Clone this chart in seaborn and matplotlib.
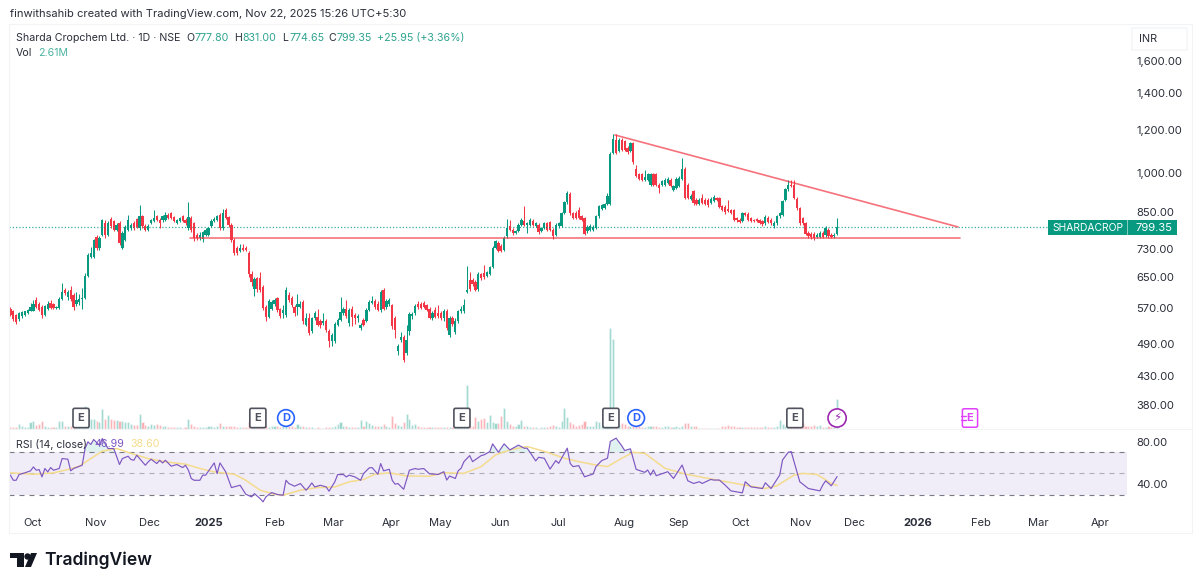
import numpy as np
import pandas as pd
import seaborn as sns
import matplotlib.pyplot as plt
from matplotlib.lines import Line2D
from matplotlib.patches import Rectangle, Polygon, FancyBboxPatch
from matplotlib.ticker import NullLocator

# daily candles, oldest first
opens = [
    569, 562, 554, 544, 551, 554, 558, 564, 564, 589,
    579, 573, 554, 569, 583, 579, 571, 571, 593, 614,
    597, 614, 601, 581, 585, 593, 595, 653, 706, 706,
    767, 734, 775, 813, 775, 827, 820, 791, 813, 734,
    759, 791, 796, 813, 827, 796, 836, 804, 791, 813,
    820, 836, 825, 822, 825, 842, 848, 834, 813, 820,
    836, 825, 796, 830, 813, 775, 764, 761, 775, 775,
    804, 820, 825, 842, 796, 860, 834, 807, 759, 734,
    724, 732, 732, 717, 657, 618, 646, 646, 622, 573,
    550, 569, 579, 595, 567, 558, 554, 603, 595, 573,
    573, 573, 585, 532, 546, 517, 546, 550, 539, 536,
    539, 518, 496, 496, 532, 543, 558, 567, 536, 567,
    554, 548, 524, 543, 541, 566, 583, 587, 581, 566,
    614, 573, 579, 577, 548, 477, 498, 506, 473, 517,
    552, 558, 581, 581, 583, 577, 567, 546, 566, 558,
    558, 546, 563, 510, 546, 516, 539, 562, 562, 609,
    640, 640, 635, 618, 657, 659, 653, 657, 678, 734,
    749, 739, 727, 770, 802, 791, 780, 786, 807, 820,
    807, 807, 820, 804, 807, 786, 798, 813, 816, 791,
    775, 802, 804, 848, 886, 916, 848, 848, 860, 836,
    830, 786, 791, 791, 796, 836, 862, 866, 879, 879,
    1090, 1149, 1098, 1149, 1144, 1113, 1098, 1134, 1017, 996,
    996, 975, 975, 955, 996, 996, 955, 955, 955, 962,
    975, 933, 942, 949, 978, 1021, 955, 900, 929, 897,
    879, 903, 897, 897, 885, 890, 902, 902, 873, 870,
    862, 857, 857, 830, 825, 820, 848, 844, 830, 825,
    827, 823, 820, 812, 830, 825, 803, 812, 836, 842,
    897, 936, 955, 955, 900, 866, 830, 814, 781, 777,
    777, 768, 768, 781, 773, 790, 775, 770, 777.8,
]
highs = [
    572, 566, 557, 560, 562, 564, 569, 582, 590, 597,
    585, 578, 578, 586, 590, 583, 576, 596, 634, 620,
    614, 626, 606, 610, 605, 621, 660, 716, 735, 762,
    772, 770, 828, 824, 820, 834, 824, 812, 820, 785,
    806, 840, 812, 820, 832, 877, 840, 810, 810, 828,
    860, 842, 830, 840, 852, 848, 852, 838, 826, 835,
    840, 830, 886, 838, 818, 780, 782, 788, 795, 800,
    826, 834, 842, 848, 862, 866, 838, 812, 764, 738,
    745, 745, 738, 722, 665, 650, 650, 662, 628, 578,
    592, 590, 594, 598, 571, 578, 622, 610, 600, 578,
    604, 586, 590, 558, 558, 550, 562, 567, 544, 558,
    544, 522, 514, 537, 548, 598, 572, 590, 571, 574,
    558, 556, 536, 548, 570, 589, 600, 592, 586, 614,
    620, 592, 595, 581, 552, 490, 515, 510, 532, 560,
    560, 580, 586, 585, 588, 581, 572, 562, 572, 577,
    562, 567, 567, 552, 552, 546, 566, 574, 593, 680,
    662, 645, 640, 662, 660, 682, 666, 680, 738, 758,
    754, 744, 770, 828, 825, 795, 790, 812, 830, 872,
    818, 830, 826, 818, 812, 800, 818, 818, 820, 796,
    812, 818, 852, 892, 928, 925, 852, 854, 868, 840,
    835, 808, 810, 806, 842, 878, 880, 884, 922, 1092,
    1180, 1177, 1158, 1158, 1150, 1120, 1140, 1140, 1036, 1002,
    1000, 1016, 1000, 1002, 1000, 1002, 960, 974, 980, 984,
    980, 953, 984, 988, 1065, 1028, 960, 916, 934, 902,
    902, 916, 902, 902, 905, 914, 906, 906, 878, 875,
    897, 862, 862, 834, 829, 852, 852, 850, 834, 828,
    832, 827, 824, 840, 836, 830, 820, 840, 852, 895,
    942, 975, 975, 972, 905, 870, 835, 818, 785, 782,
    782, 780, 786, 786, 804, 796, 780, 780, 831,
]
lows = [
    552, 540, 533, 541, 548, 552, 556, 562, 562, 570,
    562, 546, 552, 566, 569, 568, 568, 569, 590, 602,
    590, 588, 566, 575, 578, 568, 592, 650, 702, 702,
    728, 728, 770, 765, 770, 798, 785, 786, 742, 730,
    755, 786, 790, 790, 795, 790, 798, 786, 786, 810,
    816, 820, 795, 818, 820, 826, 826, 816, 810, 816,
    816, 808, 790, 782, 755, 756, 758, 752, 770, 770,
    800, 816, 820, 790, 790, 826, 800, 752, 710, 710,
    720, 722, 724, 650, 625, 600, 610, 610, 566, 540,
    546, 565, 575, 560, 548, 546, 550, 584, 572, 552,
    554, 570, 534, 528, 510, 514, 542, 528, 524, 532,
    516, 484, 486, 492, 528, 540, 554, 548, 530, 530,
    534, 537, 521, 528, 538, 562, 580, 568, 562, 560,
    565, 568, 575, 522, 503, 468, 495, 455, 468, 510,
    545, 554, 568, 568, 570, 562, 544, 542, 546, 548,
    542, 540, 520, 506, 528, 512, 535, 558, 558, 606,
    612, 626, 612, 612, 640, 644, 650, 654, 675, 730,
    720, 720, 724, 765, 786, 775, 776, 782, 802, 802,
    780, 802, 802, 800, 778, 782, 794, 786, 786, 762,
    770, 798, 800, 844, 882, 842, 826, 826, 826, 820,
    772, 780, 785, 788, 792, 832, 858, 862, 875, 875,
    1086, 1085, 1092, 1100, 1098, 1085, 1092, 1042, 984, 972,
    968, 970, 970, 950, 950, 948, 923, 950, 950, 958,
    944, 928, 938, 944, 974, 898, 898, 896, 878, 875,
    875, 880, 875, 871, 882, 886, 892, 866, 856, 846,
    850, 844, 820, 818, 812, 816, 838, 820, 816, 816,
    816, 810, 804, 808, 812, 808, 795, 808, 832, 838,
    892, 930, 944, 898, 860, 808, 806, 772, 764, 762,
    756, 763, 764, 764, 768, 765, 764, 765, 774.65,
]
closes = [
    554, 544, 537, 558, 560, 562, 566, 573, 581, 573,
    566, 554, 575, 579, 571, 571, 573, 593, 610, 606,
    610, 592, 573, 589, 593, 595, 653, 711, 717, 756,
    734, 764, 822, 773, 813, 802, 791, 807, 749, 780,
    800, 822, 807, 796, 799, 836, 802, 791, 804, 822,
    830, 825, 813, 836, 842, 830, 830, 820, 822, 830,
    820, 813, 834, 791, 764, 764, 775, 782, 789, 796,
    820, 827, 836, 796, 848, 830, 807, 759, 717, 717,
    734, 727, 727, 657, 635, 644, 618, 614, 571, 550,
    587, 585, 589, 566, 552, 566, 614, 589, 577, 558,
    579, 581, 539, 546, 514, 546, 558, 532, 532, 541,
    521, 496, 510, 533, 543, 560, 568, 552, 566, 550,
    546, 552, 532, 532, 566, 585, 586, 573, 566, 610,
    569, 587, 590, 528, 521, 486, 506, 458, 498, 555,
    556, 575, 573, 571, 573, 566, 548, 558, 550, 552,
    546, 563, 524, 546, 533, 541, 562, 569, 577, 614,
    618, 631, 616, 657, 646, 648, 662, 676, 734, 754,
    724, 724, 764, 796, 791, 780, 786, 807, 825, 807,
    813, 825, 807, 813, 782, 796, 813, 791, 791, 770,
    807, 813, 848, 886, 920, 848, 830, 830, 830, 825,
    778, 800, 803, 800, 836, 873, 875, 879, 910, 1084,
    1155, 1090, 1149, 1105, 1105, 1093, 1134, 1049, 989, 978,
    975, 986, 996, 996, 955, 955, 942, 968, 975, 978,
    949, 949, 978, 982, 1021, 903, 903, 912, 883, 879,
    897, 885, 879, 875, 900, 907, 897, 870, 860, 850,
    854, 848, 825, 822, 816, 848, 842, 825, 820, 820,
    820, 814, 809, 834, 816, 812, 814, 836, 848, 890,
    936, 955, 949, 903, 866, 814, 812, 778, 770, 768,
    765, 775, 781, 768, 797, 770, 768, 773.4, 799.35,
]
# volume in millions of shares
volumes = [
    .17, .15, .15, .41, .23, .17, .2, .58, .73, .35,
    .41, .73, .29, .17, .15, .15, .17, .73, .73, .29,
    .29, .29, .35, .29, .29, .35, 1.97, .87, .87, .87,
    .73, .64, 1.74, .87, 1.22, .87, .78, .78, .73, .73,
    .58, .58, .44, .35, .35, 1.31, .58, .35, .29, .44,
    .35, .44, .35, .23, .29, .17, .15, .15, .15, .15,
    .12, .17, .87, .44, .23, .2, .2, .17, .17, .23,
    .23, .2, .23, .52, .29, .29, .23, .29, .23, .17,
    .15, .15, .17, .58, .35, .23, .2, .17, .17, .23,
    .17, .23, .23, .29, .17, .29, .52, .23, .23, .17,
    .44, .23, .23, .2, .17, .15, .12, .15, .12, .12,
    .15, .17, .17, .23, .41, .64, .29, .23, .17, .15,
    .15, .15, .81, .23, .73, .52, .35, .23, .23, .23,
    .44, .23, .17, 1.16, .52, .35, .23, .58, 1.31, .87,
    .35, .44, .23, .17, .15, .15, .15, .17, .2, .15,
    .17, .15, .17, .15, .17, .15, .15, .15, .15, 3.8,
    .29, .29, 1.02, .73, .87, .93, .58, 1.22, .64, .52,
    .52, 1.1, 1.8, .73, .44, .29, .29, .44, .81, .29,
    .23, .17, .15, .15, .09, .15, .15, .17, .23, .35,
    .29, .17, .73, 1.8, 1.02, .58, .44, .29, .35, .44,
    .73, .29, .23, .23, .73, .58, .29, .29, .29, 8.79,
    7.83, 1.83, .35, .52, .44, .29, .23, .29, .29, .23,
    .2, .2, .23, .23, .23, .23, .2, .17, .23, .23,
    .2, .17, .23, .2, .23, .52, .52, .23, .23, .23,
    .12, .12, .09, .12, .12, .09, .12, .12, .29, .23,
    .35, .23, .23, .17, .17, .15, .15, .17, .17, .15,
    .15, .17, .15, .23, .17, .15, .17, .29, .81, .44,
    .23, .23, .23, 1.91, .17, .23, .52, .29, .29, .23,
    .35, .23, .35, .17, .17, .23, .15, .17, 2.61,
]

# RSI vertices (bar number, value)
rsi_bars = [
    0, 1, 2, 3, 5, 7, 8, 9, 10, 11, 12, 13, 14, 15, 17, 18, 20, 21, 22, 25,
    26, 27, 28, 29, 31, 32, 34, 36, 38, 39, 41, 42, 43, 44, 46, 47, 48, 49, 51, 52,
    53, 54, 56, 58, 60, 61, 62, 63, 64, 66, 67, 68, 70, 71, 72, 73, 75, 77, 80, 82,
    84, 85, 87, 88, 89, 91, 93, 95, 96, 97, 99, 101, 103, 104, 105, 106, 108, 110, 111, 113,
    114, 116, 117, 118, 120, 122, 123, 125, 126, 128, 129, 130, 132, 133, 134, 135, 137, 139, 141, 142,
    144, 146, 149, 151, 152, 153, 155, 156, 157, 158, 160, 161, 164, 165, 167, 168, 170, 172, 174, 177,
    179, 180, 181, 183, 184, 186, 188, 190, 191, 193, 194, 195, 196, 198, 200, 203, 204, 206, 208, 209,
    211, 213, 214, 216, 218, 221, 222, 223, 224, 225, 229, 231, 234, 236, 238, 240, 241, 244, 245, 247,
    249, 251, 255, 256, 258, 262, 263, 265, 268, 269, 271, 272, 274, 275, 278, 282, 283, 284, 286, 288,
]
rsi_values = [
    48.3, 43.5, 43.5, 48.9, 50.5, 52.4, 56.1, 53, 53.6, 46.7, 54.6, 51.4, 55.5, 53, 54.6, 64, 63.4, 52.4, 54.6, 57.7,
    73.5, 79.8, 77.3, 82, 76.6, 82.9, 73.5, 73.5, 58.4, 64, 66.2, 63.1, 62.4, 67.2, 60.9, 57.7, 60.9, 63.4, 59.3, 62.4,
    59.9, 62.4, 56.8, 58.4, 55.5, 57.7, 53, 45.1, 43.5, 43.5, 48.3, 48.3, 56.1, 59.9, 49.8, 59.9, 51.4, 36.6, 38.8, 30.3,
    27.8, 30.9, 26.2, 23.1, 27.8, 31.9, 30, 29.4, 43.5, 40.4, 37.9, 40.4, 34.1, 37.2, 41, 37.2, 38.8, 37.2, 33.2, 42,
    48.9, 48.9, 46.7, 48.3, 46.7, 43.5, 49.8, 55.2, 55.5, 49.2, 59.3, 52.4, 53.9, 43.5, 39.8, 40.4, 35, 53, 54.6, 53.9,
    54.6, 49.6, 49, 51.6, 43.7, 47.5, 45.2, 52.5, 54.8, 61.1, 66.8, 61.1, 66.8, 67.5, 70.6, 77.9, 70, 77.9, 72.2, 76.7,
    73.8, 73.8, 70, 61.8, 65.2, 64.3, 54.1, 62.1, 59.5, 69, 73.8, 59.5, 56.4, 57.3, 46.8, 49.4, 56.4, 62.1, 64.3, 80.2,
    83.3, 76, 71.6, 73.2, 53.8, 51, 53.2, 48.4, 53.2, 47.8, 51.6, 45.2, 57.9, 43, 40.5, 42.1, 40.5, 44.3, 43.7, 43.7,
    38.9, 33.5, 31.6, 42.1, 37.3, 35.7, 41.1, 35.7, 48.4, 62.7, 70, 70.6, 51.6, 42.1, 35.7, 33.5, 38.9, 43, 38.3, 46.99,
]
# RSI moving average vertices
rsi_ma_bars = [
    0, 8, 15, 20, 24, 28, 32, 37, 43, 48, 54, 61, 66, 71, 78, 82, 87, 92, 95, 101,
    107, 113, 118, 123, 127, 132, 138, 146, 151, 158, 164, 169, 174, 180, 187, 193, 198, 204, 208, 213,
    217, 221, 228, 235, 245, 257, 263, 267, 273, 276, 281, 286, 288,
]
rsi_ma_values = [
    50.5, 49.2, 50.5, 53.6, 56.8, 64, 71, 73.5, 68.1, 64, 60.9, 58.7, 54.6, 51.4, 49.2, 43.5, 34.1, 30.3, 29.4, 34.1,
    36.6, 37.2, 42, 44.2, 49.2, 50.5, 47.6, 47.3, 50.6, 50, 56.4, 67.5, 72.2, 75.4, 70, 64.3, 61.1, 57.9, 56.4, 64.3,
    70, 69, 54.8, 49.4, 44.3, 38.3, 35.7, 38.3, 48.4, 50, 49, 40.5, 38.6,
]

price_ticks = [1600, 1400, 1200, 1000, 850, 730, 650, 570, 490, 430, 380]
rsi_ticks = [80, 40]
month_labels = ['Oct', 'Nov', 'Dec', '2025', 'Feb', 'Mar', 'Apr', 'May', 'Jun', 'Jul', 'Aug', 'Sep',
                'Oct', 'Nov', 'Dec', '2026', 'Feb', 'Mar', 'Apr']
month_bars = [7.8, 29.8, 48.6, 69.2, 92.2, 112.4, 132.6, 149.7, 170.6, 190.8, 213.8, 232.9,
              254.5, 275.4, 294.2, 316.2, 338.2, 358, 379.6]

support_bars = [62.6, 330.8]
support_price = [763, 763]
trend_bars = [210.6, 330.1]
trend_price = [1174.5, 800]
earnings_bars = [24.6, 86.2, 157.3, 209.2, 273.3]
dividend_bars = [96, 218]

GREEN = '#089981'
RED = '#f23645'
PURPLE = '#7e57c2'
YELLOW = '#f5dc8c'
GREY = '#787b86'
TEXT = '#2a2e39'
LEGEND_SIZE = 7.65

W, H = 1200, 587
sns.set_theme(style='white')
plt.rcParams['font.family'] = ['Inter', 'DejaVu Sans']


def fx(x):
    return x / W


def fy(y):
    return 1 - y / H


def pane(left, top, right, bottom, **kw):
    return fig.add_axes([fx(left), fy(bottom), fx(right - left), (bottom - top) / H], **kw)


df = pd.DataFrame({'open': opens, 'high': highs, 'low': lows, 'close': closes, 'vol': volumes})
df['bar'] = df.index
df['up'] = df['close'] >= df['open']

fig = plt.figure(figsize=(W / 100, H / 100), dpi=100)

# panes, volume sits behind the candles
ax_vol = pane(9, 24, 1127, 429)
ax = pane(9, 24, 1127, 429, sharex=ax_vol)
ax_rsi = pane(9, 430, 1127, 508, sharex=ax_vol)
ax.patch.set_visible(False)

sns.barplot(data=df, x='bar', y='vol', hue='up', palette={True: GREEN, False: RED}, alpha=0.45, saturation=1,
            native_scale=True, dodge=False, width=0.72, gap=0, legend=False, ax=ax_vol)
ax_vol.set_ylim(0, 35.2)
ax_vol.set_yticks([])
ax_vol.set_ylabel('')
ax_vol.set_xlabel('')

# candles
colors = np.where(df['up'], GREEN, RED)
ax.vlines(df['bar'], df['low'], df['high'], colors=colors, linewidth=0.75)
ax.bar(df['bar'], (df['close'] - df['open']).abs().clip(lower=1.5), bottom=df[['open', 'close']].min(axis=1),
       width=0.8, color=colors, linewidth=0)
ax.set_yscale('log')
ax.set_ylim(344, 1867)
ax.yaxis.tick_right()
ax.set_yticks(price_ticks)
ax.set_yticklabels([f'{p:,.2f}' for p in price_ticks])
ax.yaxis.set_minor_locator(NullLocator())
ax.tick_params(axis='y', length=0, pad=6.5, labelsize=8.05, labelcolor=TEXT)
ax.tick_params(axis='x', length=0, labelbottom=False)

# last price line and drawn levels
ax.plot([0, 0.9293], [df['close'].iloc[-1]] * 2, transform=ax.get_yaxis_transform(), color=GREEN,
        linestyle=(0, (1, 1.6)), linewidth=0.9, alpha=0.8, zorder=1)
sns.lineplot(x=support_bars, y=support_price, color=RED, alpha=0.7, linewidth=1.2, ax=ax, zorder=4)
sns.lineplot(x=trend_bars, y=trend_price, color=RED, alpha=0.7, linewidth=1.2, ax=ax, zorder=4)
ax.set_ylabel('')

# RSI pane
ax_rsi.axhspan(30, 70, color=PURPLE, alpha=0.11, linewidth=0)
for level, alpha in [(70, 1), (50, 0.55), (30, 1)]:
    ax_rsi.axhline(level, color=GREY, linestyle=(0, (4.5, 4.5)), linewidth=0.8, alpha=alpha)
rsi_b = np.array(rsi_bars)
rsi_v = np.array(rsi_values)
ax_rsi.fill_between(rsi_b, 70, rsi_v, where=rsi_v > 70, interpolate=True, color=GREEN, alpha=0.12, linewidth=0)
sns.lineplot(x=rsi_ma_bars, y=rsi_ma_values, color=YELLOW, linewidth=1.1, estimator=None, sort=False, ax=ax_rsi)
sns.lineplot(x=rsi_bars, y=rsi_values, color=PURPLE, linewidth=0.85, estimator=None, sort=False, ax=ax_rsi)
ax_rsi.set_ylim(17.3, 91)
ax_rsi.yaxis.tick_right()
ax_rsi.set_yticks(rsi_ticks)
ax_rsi.set_yticklabels([f'{r:.2f}' for r in rsi_ticks])
ax_rsi.tick_params(axis='y', length=0, pad=6.5, labelsize=8.05, labelcolor=TEXT)
ax_rsi.set_xticks(month_bars)
ax_rsi.set_xticklabels(month_labels)
ax_rsi.tick_params(axis='x', length=0, pad=7, labelsize=8, labelcolor=TEXT)
for lab in ax_rsi.get_xticklabels():
    if lab.get_text().startswith('20'):
        lab.set_fontweight('bold')
ax_rsi.set_xlim(-0.5, 389)

for a in (ax_vol, ax, ax_rsi):
    a.grid(False)
    for s in a.spines.values():
        s.set_visible(False)
ax_vol.tick_params(axis='x', labelbottom=False, length=0)

# event markers along the bottom of the price pane
marker_tf = ax.get_xaxis_transform()
marker_y = (429 - 418) / 405
for b in earnings_bars:
    ax.text(b, marker_y, 'E', transform=marker_tf, ha='center', va='center', fontsize=8, fontweight='bold',
            color='#50535e', zorder=6,
            bbox=dict(boxstyle='round,pad=0.42,rounding_size=0.15', fc='white', ec='#50535e', lw=1.2))
for b in dividend_bars:
    ax.text(b, marker_y, 'D', transform=marker_tf, ha='center', va='center', fontsize=8, fontweight='bold',
            color='#2962ff', zorder=6, bbox=dict(boxstyle='circle,pad=0.3', fc='white', ec='#2962ff', lw=1.2))
ax.text(288, marker_y, '\u26a1', transform=marker_tf, ha='center', va='center', fontsize=8.5, color='#9c27b0',
        family='DejaVu Sans', zorder=6, bbox=dict(boxstyle='circle,pad=0.22', fc='white', ec='#9c27b0', lw=1.2))
ax.text(334.3, marker_y, 'E', transform=marker_tf, ha='center', va='center', fontsize=8, fontweight='bold',
        color='#e040fb', zorder=6,
        bbox=dict(boxstyle='round,pad=0.38,rounding_size=0.15', fc='white', ec='#e040fb', lw=1.1))
for y in (416, 420):
    fig.add_artist(Line2D([fx(961), fx(966)], [fy(y), fy(y)], color='#e040fb', linewidth=1, zorder=8))

# frame lines
frame = '#f2f3f5'
for x0, y0, x1, y1 in [(9, 24, 1192, 24), (9, 429, 1192, 429), (9, 533, 1192, 533),
                       (9, 24, 9, 533), (1192, 24, 1192, 533)]:
    fig.add_artist(Line2D([fx(x0), fx(x1)], [fy(y0), fy(y1)], color=frame, linewidth=0.8))

# last price tag
fig.add_artist(FancyBboxPatch((fx(1048), fy(235)), fx(79.5), 15 / H, boxstyle='round,pad=0', fc=GREEN, ec='none',
                              transform=fig.transFigure))
fig.add_artist(Rectangle((fx(1128), fy(235)), fx(49), 15 / H, fc=GREEN, ec='none', transform=fig.transFigure))
fig.text(fx(1052), fy(227.8), 'SHARDACROP', color='white', fontsize=7.4, va='center', ha='left')
fig.text(fx(1136), fy(227.8), '799.35', color='white', fontsize=8.05, va='center', ha='left')

# INR box
fig.add_artist(FancyBboxPatch((fx(1132), fy(50)), fx(55), 22 / H, boxstyle='round,pad=0', fc='white', ec='#f0f1f4',
                              linewidth=0.8, transform=fig.transFigure))
fig.text(fx(1139), fy(38.5), 'INR', color=TEXT, fontsize=7.8, va='center', ha='left')

# header and legend texts
fig.text(fx(10), fy(14), 'finwithsahib created with TradingView.com, Nov 22, 2025 15:26 UTC+5:30', color=TEXT,
         fontsize=8.05, va='center', ha='left')
fig.text(fx(16), fy(38), 'Sharda Cropchem Ltd. \u00b7 1D \u00b7 NSE', color=TEXT, fontsize=LEGEND_SIZE, va='center',
         ha='left')
for x, s in [(186, 'O'), (234, 'H'), (282, 'L'), (328, 'C')]:
    fig.text(fx(x), fy(38), s, color=TEXT, fontsize=LEGEND_SIZE, va='center', ha='left')
for x, s in [(194, '777.80'), (242, '831.00'), (289, '774.65'), (336, '799.35'), (377, '+25.95 (+3.36%)')]:
    fig.text(fx(x), fy(38), s, color='#2ea38f', fontsize=LEGEND_SIZE, va='center', ha='left')
fig.text(fx(16), fy(53), 'Vol', color=TEXT, fontsize=LEGEND_SIZE, va='center', ha='left')
fig.text(fx(38), fy(53), '2.61M', color='#4db3a2', fontsize=LEGEND_SIZE, va='center', ha='left')
fig.text(fx(16), fy(444), 'RSI (14, close)', color=TEXT, fontsize=LEGEND_SIZE, va='center', ha='left')
fig.text(fx(94), fy(444), '46.99', color=PURPLE, fontsize=LEGEND_SIZE, va='center', ha='left')
fig.text(fx(130), fy(444), '38.60', color=YELLOW, fontsize=LEGEND_SIZE, va='center', ha='left')

# TradingView logo
logo = '#131722'
fig.add_artist(Polygon([(fx(10), fy(553)), (fx(24), fy(553)), (fx(24), fy(567)), (fx(17), fy(567)),
                        (fx(17), fy(558)), (fx(10), fy(558))], closed=True, fc=logo, ec='none',
                       transform=fig.transFigure))
fig.add_artist(Polygon([(fx(31), fy(553)), (fx(37), fy(553)), (fx(31), fy(567)), (fx(25), fy(567))], closed=True,
                       fc=logo, ec='none', transform=fig.transFigure))
fig.add_artist(Line2D([fx(27)], [fy(555.5)], marker='o', markersize=3.6, color=logo, transform=fig.transFigure))
fig.text(fx(44), fy(560), 'TradingView', color=logo, fontsize=12.6, fontweight='semibold', va='center', ha='left')

fig.savefig('out.png', dpi=100, facecolor='white')
